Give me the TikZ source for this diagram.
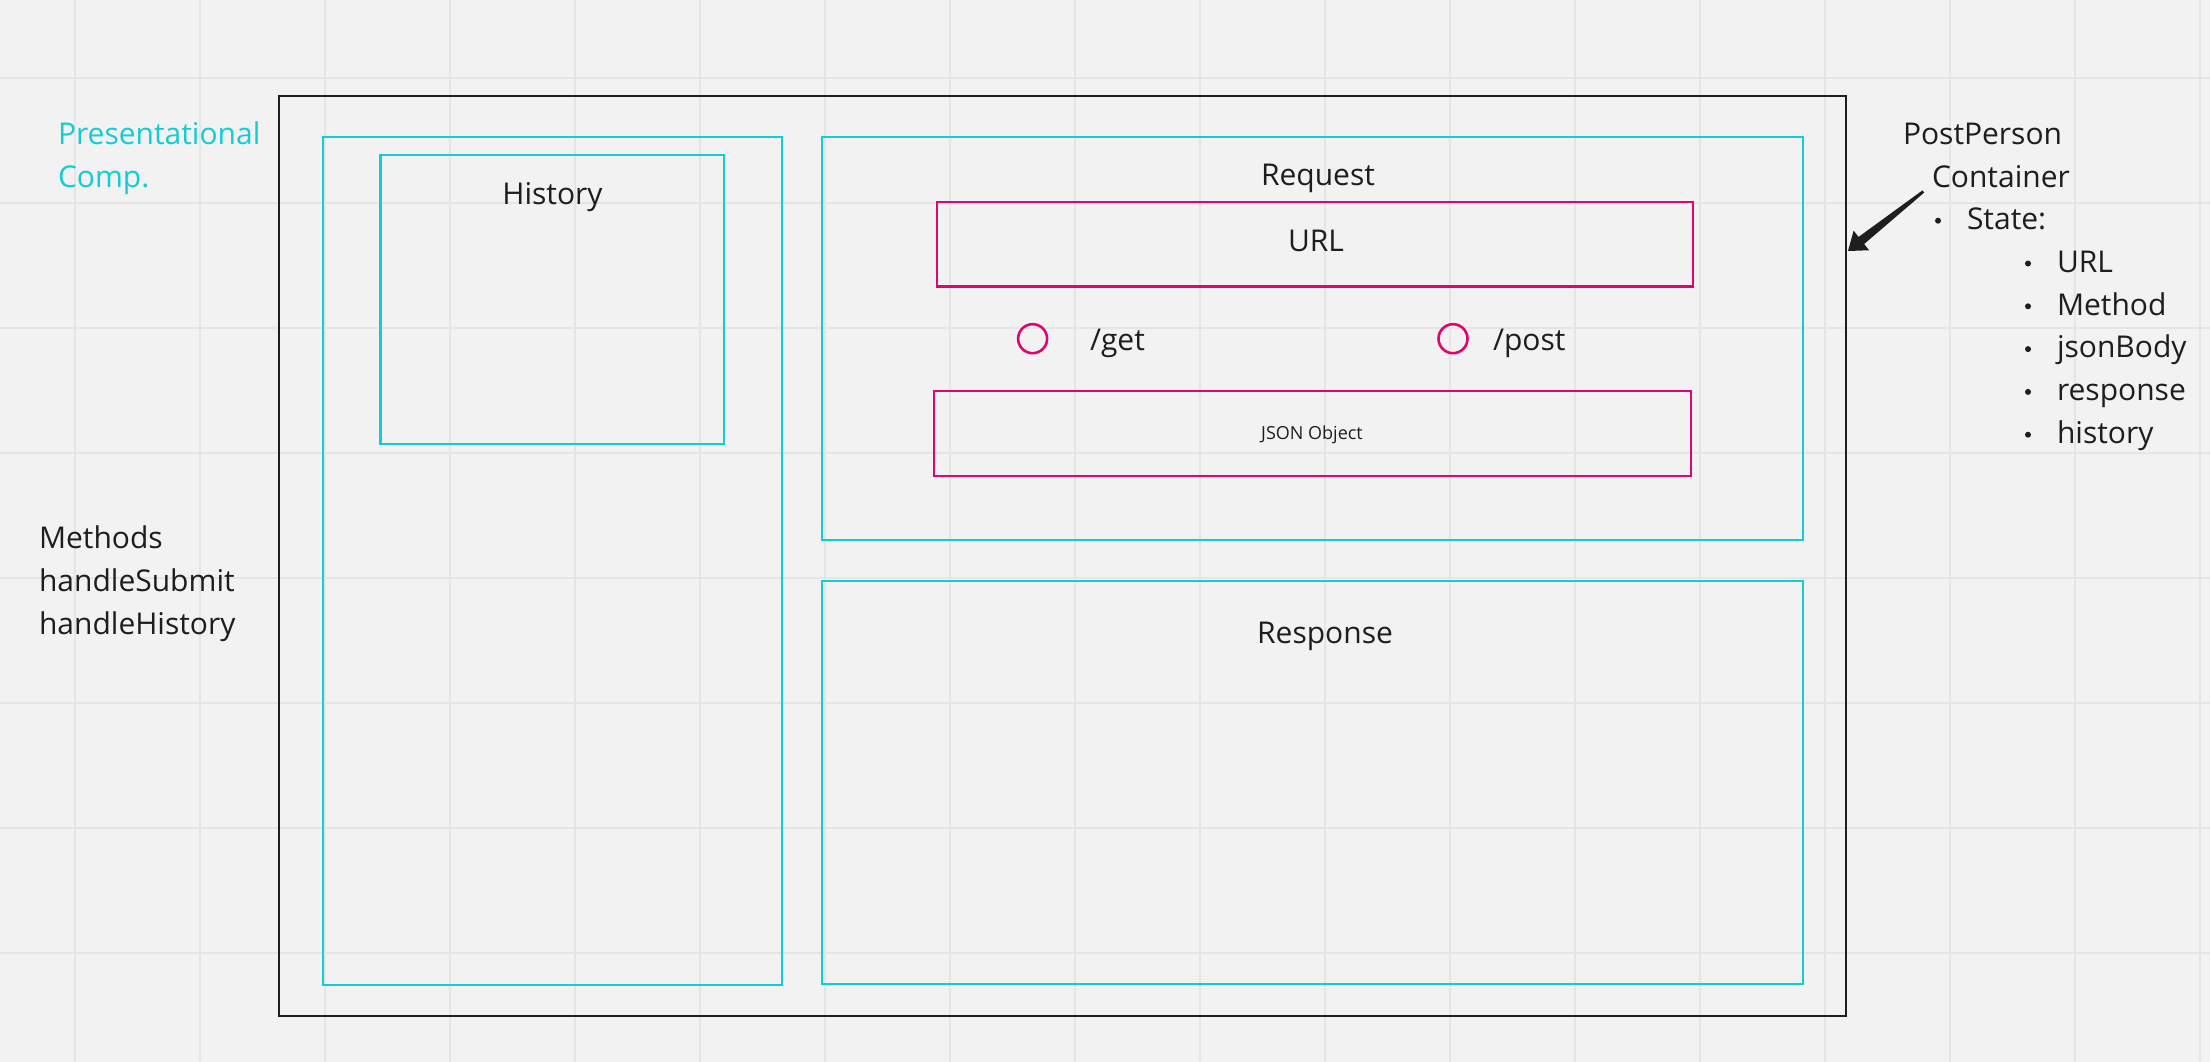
\documentclass[tikz,border=0pt]{standalone}
\usepackage{fontspec}
\setmainfont{Open Sans}
\usetikzlibrary{arrows.meta,calc}
\definecolor{bg}{RGB}{242,242,242}
\definecolor{gridc}{RGB}{229,229,229}
\definecolor{cyanc}{RGB}{20,205,212}
\definecolor{magc}{RGB}{224,6,112}
\definecolor{txt}{RGB}{30,30,30}
\begin{document}
\begin{tikzpicture}[x=1pt,y=-1pt,
  gridline/.style={draw=gridc,line width=2pt},
  box/.style={draw,rectangle,inner sep=0,outer sep=0},
  outerbox/.style={box,draw=txt,line width=2.8pt},
  cyanbox/.style={box,draw=cyanc,line width=2.6pt},
  magbox/.style={box,draw=magc,line width=2.6pt},
  radio/.style={draw=magc,line width=2.6pt,circle,inner sep=0,minimum size=29pt},
  lbl/.style={inner sep=0,outer sep=0,text=txt,font=\fontsize{30}{36}\selectfont},
  smalllbl/.style={inner sep=0,outer sep=0,text=txt,font=\fontsize{18}{22}\selectfont},
  dot/.style={circle,fill=txt,inner sep=0,minimum size=6pt},
  arrowfill/.style={fill=txt}]
\fill[bg] (0,0) rectangle (2210,1062);
\useasboundingbox (0,0) rectangle (2210,1062);
% grid
\foreach \i in {0,...,17} \draw[gridline] ({74.5+125*\i},0) -- ({74.5+125*\i},1062);
\foreach \i in {0,...,7} \draw[gridline] (0,{78+125*\i}) -- (2210,{78+125*\i});
% boxes
\node[outerbox,minimum width=1567pt,minimum height=920pt] (outer) at (1062.5,556) {};
\node[cyanbox,minimum width=459pt,minimum height=848pt] (left) at (552.5,561) {};
\node[cyanbox,minimum width=343.5pt,minimum height=289pt] (history) at (552.25,299.5) {};
\node[cyanbox,minimum width=981pt,minimum height=403pt] (request) at (1312.5,338.5) {};
\node[cyanbox,minimum width=981pt,minimum height=403pt] (response) at (1312.5,782.5) {};
\node[magbox,minimum width=756pt,minimum height=84.5pt] (url) at (1315,244.25) {};
\node[magbox,minimum width=757pt,minimum height=85pt] (json) at (1312.5,433.5) {};
\node[radio] (rget) at (1032.6,338.7) {};
\node[radio] (rpost) at (1453,338.7) {};
% labels
\node[lbl,anchor=base] (thistory) at (552.5,204) {History};
\node[lbl,anchor=base] (trequest) at (1318,185) {Request};
\node[lbl,anchor=base] (turl) at (1316,251.7) {URL};
\node[lbl,anchor=base west] (tget) at (1090,350) {/get};
\node[lbl,anchor=base west] (tpost) at (1493,350) {/post};
\node[smalllbl,anchor=base] (tjson) at (1312,439) {JSON Object};
\node[lbl,anchor=base] (tresponse) at (1325,643) {Response};
% left texts
\node[lbl,anchor=base west,text=cyanc] (pres1) at (58,144) {Presentational};
\node[lbl,anchor=base west,text=cyanc] (pres2) at (58,187) {Comp.};
\node[lbl,anchor=base west] (meth1) at (39,548) {Methods};
\node[lbl,anchor=base west] (meth2) at (39,591) {handleSubmit};
\node[lbl,anchor=base west] (meth3) at (39,634) {handleHistory};
% right texts
\node[lbl,anchor=base west] (pp) at (1903,144) {PostPerson};
\node[lbl,anchor=base west] (cont) at (1932,187) {Container};
\node[dot] (b0) at (1938,220.7) {};
\node[lbl,anchor=base west] (state) at (1967,229.3) {State:};
\foreach \t [count=\k from 0] in {URL,Method,jsonBody,response,history} {
  \node[dot] (bb\k) at (2028,{263.5+42.8*\k}) {};
  \node[lbl,anchor=base west] (item\k) at (2057,{272.3+42.8*\k}) {\t};
}
% arrow (tapered shaft with filled head)
\coordinate (arrowstart) at (1923.3,191.5);
\coordinate (arrowtip) at ([xshift=2pt]outer.east |- 0,251);
\coordinate (abase) at ($(arrowtip)!17pt!(arrowstart)$);
\fill[arrowfill]
  ($(arrowstart)!1.4pt!90:(arrowtip)$) --
  ($(abase)!4.5pt!90:(arrowtip)$) --
  ($(abase)!12.5pt!90:(arrowtip)$) --
  (arrowtip) --
  ($(abase)!12.5pt!-90:(arrowtip)$) --
  ($(abase)!4.5pt!-90:(arrowtip)$) --
  ($(arrowstart)!1.4pt!-90:(arrowtip)$) -- cycle;
\end{tikzpicture}
\end{document}
